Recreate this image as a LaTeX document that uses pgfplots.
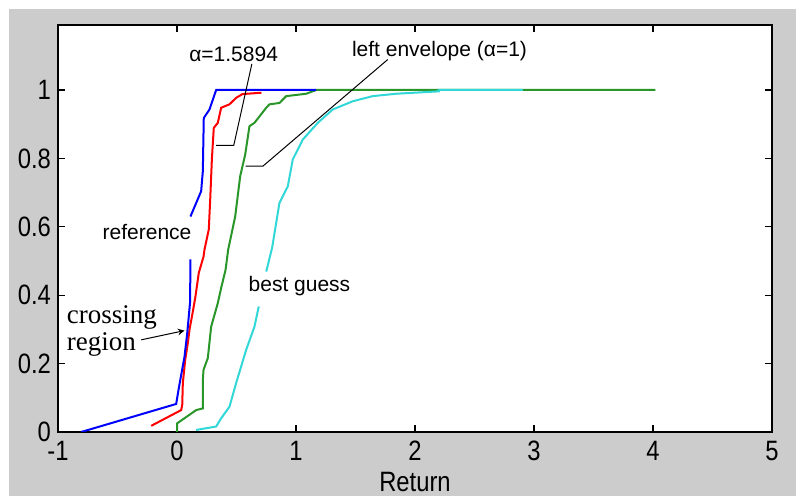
\documentclass[border=0pt]{standalone}
\usepackage{fontspec}
\setmainfont{Liberation Sans}
\newfontfamily\ticksans[FakeStretch=0.85]{Liberation Sans}
\newfontfamily\crossfont{Liberation Serif}
\usepackage{pgfplots}
\pgfplotsset{compat=1.18}
\definecolor{figgray}{RGB}{204,204,204}
\definecolor{mgreen}{RGB}{40,150,40}
\definecolor{mcyan}{RGB}{50,215,215}

\begin{document}
\begin{tikzpicture}
% figure background (1px = 0.5pt)
\path[use as bounding box] (-29pt,-32pt) rectangle (369pt,216pt);
\fill[figgray] (-24.5pt,-32pt) rectangle (369pt,211.5pt);

\begin{axis}[
  scale only axis,
  width=357pt, height=203.5pt,
  xmin=-1, xmax=5,
  ymin=0, ymax=1.19,
  axis background/.style={fill=white},
  axis line style={black, line width=0.6pt},
  tick style={black, line width=0.6pt},
  tick align=inside,
  tick pos=both,
  major tick length=3.5pt,
  xtick={-1,0,1,2,3,4,5},
  xticklabels={-1,0,1,2,3,4,5},
  ytick={0,0.2,0.4,0.6,0.8,1},
  yticklabels={0,0.2,0.4,0.6,0.8,1},
  ticklabel style={font=\fontsize{14}{16}\selectfont\ticksans},
  xticklabel style={yshift=-1pt},
  xlabel={Return},
  xlabel style={font=\fontsize{14}{16}\selectfont\ticksans,
    at={(axis description cs:0.5,0)}, anchor=base, yshift=-30pt},
]
% green: left envelope
\addplot[color=mgreen, line width=1pt] coordinates {
  (0,0) (0,0.025) (0.161,0.064) (0.217,0.069) (0.217,0.152) (0.223,0.182)
  (0.259,0.216) (0.287,0.308) (0.343,0.377) (0.371,0.421) (0.408,0.474)
  (0.43,0.533) (0.489,0.63) (0.531,0.748) (0.573,0.811) (0.609,0.894)
  (0.651,0.904) (0.75,0.948) (0.777,0.958) (0.861,0.962) (0.918,0.982)
  (1.086,0.989) (1.17,1) (4.02,1)
};
% cyan: best guess
\addplot[color=mcyan, line width=1pt] coordinates {
  (0.161,0.006) (0.329,0.016) (0.371,0.04) (0.441,0.074) (0.497,0.143)
  (0.581,0.24) (0.651,0.308) (0.687,0.367)
};
\addplot[color=mcyan, line width=1pt] coordinates {
  (0.75,0.469) (0.80,0.54) (0.861,0.67) (0.931,0.718) (0.973,0.797)
  (1.057,0.855) (1.183,0.904) (1.309,0.943) (1.477,0.967) (1.645,0.982)
  (1.842,0.989) (2.2,0.996) (2.2,1) (2.906,1)
};
% red
\addplot[color=red, line width=1pt] coordinates {
  (-0.217,0.018) (0.035,0.064) (0.044,0.079) (0.049,0.143) (0.069,0.211)
  (0.091,0.26) (0.105,0.299) (0.133,0.352) (0.155,0.396) (0.183,0.465)
  (0.223,0.513) (0.231,0.533) (0.267,0.592) (0.279,0.679) (0.293,0.797)
  (0.309,0.889) (0.343,0.904) (0.371,0.948) (0.441,0.958) (0.497,0.977)
  (0.55,0.988) (0.71,0.992)
};
% blue: reference
\addplot[color=blue, line width=1pt] coordinates {
  (-0.805,0) (-0.007,0.082) (0.015,0.128) (0.063,0.22) (0.086,0.289)
  (0.11,0.38) (0.113,0.505)
};
\addplot[color=blue, line width=1pt] coordinates {
  (0.113,0.63) (0.203,0.704) (0.217,0.762) (0.225,0.918) (0.273,0.943)
  (0.329,1) (1.17,1)
};
% annotations
\draw[black, line width=0.5pt] (axis cs:0.629,1.076) -- (axis cs:0.477,0.838) -- (axis cs:0.329,0.838);
\draw[black, line width=0.5pt] (axis cs:1.771,1.089) -- (axis cs:0.721,0.777) -- (axis cs:0.576,0.777);
\draw[black, line width=0.5pt, ->, >=stealth] (axis cs:-0.301,0.2694) -- (axis cs:0.063,0.2965);
\node[font=\fontsize{10.5}{12}\selectfont, inner sep=1pt] at (axis cs:0.476,1.104) {α=1.5894};
\node[font=\fontsize{10.5}{12}\selectfont, inner sep=1pt] at (axis cs:2.206,1.113) {left envelope (α=1)};
\node[font=\fontsize{10.5}{12}\selectfont, inner sep=1pt] at (axis cs:-0.252,0.585) {reference};
\node[font=\fontsize{10.5}{12}\selectfont, inner sep=1pt] at (axis cs:1.029,0.4255) {best guess};
\node[font=\fontsize{13.5}{15}\selectfont\crossfont, anchor=base west, inner sep=0pt] at (axis cs:-0.929,0.316) {crossing};
\node[font=\fontsize{13.5}{15}\selectfont\crossfont, anchor=base west, inner sep=0pt] at (axis cs:-0.929,0.239) {region};
\end{axis}
\end{tikzpicture}
\end{document}
